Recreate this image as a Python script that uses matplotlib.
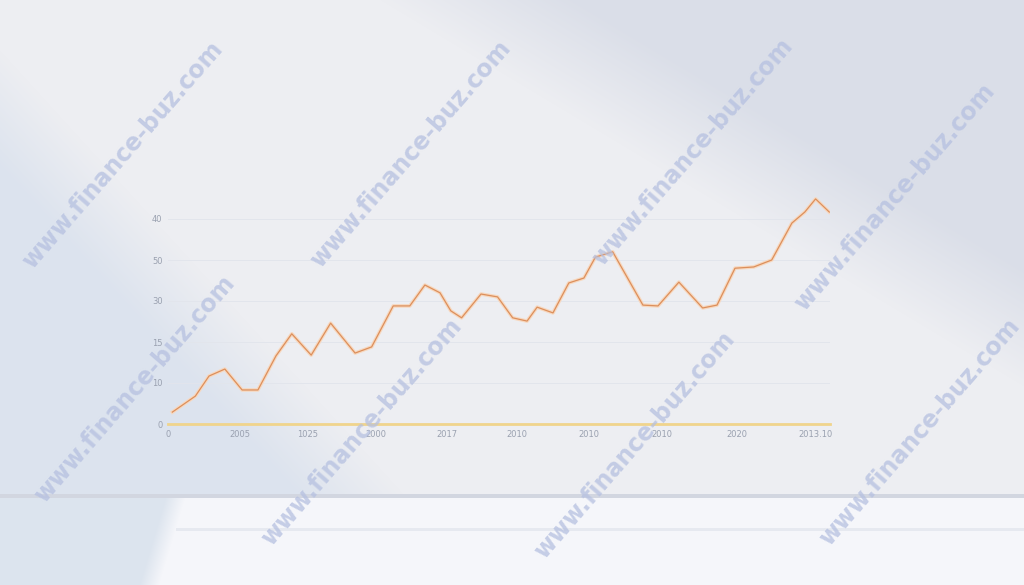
import numpy as np
import matplotlib
matplotlib.use('Agg')
import matplotlib.pyplot as plt

# line series (x in tick-spacing units, y in axis units)
x_vals = [0.06, 0.38, 0.57, 0.79, 1.03, 1.25, 1.50, 1.72, 1.99, 2.26, 2.60, 2.83,
          3.13, 3.36, 3.57, 3.78, 3.93, 4.08, 4.35, 4.58, 4.79, 4.99, 5.13, 5.35,
          5.57, 5.78, 5.94, 6.18, 6.60, 6.81, 7.10, 7.43, 7.63, 7.88, 8.14, 8.39,
          8.67, 8.85, 9.00, 9.19]
y_vals = [2.9, 6.8, 11.7, 13.4, 8.3, 8.3, 16.6, 22.0, 16.8, 24.6, 17.3, 18.8,
          28.8, 28.8, 33.9, 32.0, 27.6, 25.9, 31.7, 31.0, 25.9, 25.1, 28.5, 27.1,
          34.4, 35.6, 40.7, 42.0, 29.0, 28.8, 34.6, 28.3, 29.0, 38.0, 38.3, 40.0,
          49.0, 51.7, 54.9, 51.7]

x_ticks = [0, 1.0, 1.94, 2.89, 3.88, 4.85, 5.85, 6.86, 7.90, 9.0]
x_labels = ['0', '2005', '1025', '2000', '2017', '2010', '2010', '2010', '2020', '2013.10']
y_ticks = [0, 10, 20, 30, 40, 50]
y_labels = ['0', '10', '15', '30', '50', '40']

W, H = 1024, 585
fig = plt.figure(figsize=(W / 100, H / 100), dpi=100)

# soft background (wall + floor)
X, Y = np.meshgrid(np.arange(W), np.arange(H))

def smooth(d, w):
    return np.clip(0.5 + d / w, 0, 1)

img = np.zeros((H, W, 3))
img[:] = [237, 238, 242]
# shadow in the upper right
light = smooth((Y - 0.6 * (X - 480)), 120)
shadow_tr = np.array([218, 222, 232])
img = img * light[..., None] + shadow_tr * (1 - light[..., None])
# bluish lower-left shade
ll = smooth((Y - 110) - 1.1 * X, 120)
shade_ll = np.array([220, 227, 238])
img = img * (1 - ll[..., None]) + shade_ll * ll[..., None]
# floor
floor = Y >= 497
fl = smooth(X - 175 + 0.3 * (Y - 497), 20)
floor_col = np.array([245, 246, 250]) * fl[..., None] + np.array([220, 228, 238]) * (1 - fl[..., None])
img[floor] = floor_col[floor]
img[(Y >= 494) & (Y < 498)] = [210, 214, 224]
img[(Y >= 528) & (Y < 531) & (X > 175)] = [230, 233, 240]

bg = fig.add_axes([0, 0, 1, 1])
bg.imshow(img.astype(np.uint8), extent=(0, W, H, 0), aspect='auto')
bg.axis('off')

# chart axes
ax = fig.add_axes([168 / W, (H - 424) / H, 662 / W, 229.6 / H])
ax.patch.set_alpha(0)
ax.set_xlim(0, 9.2)
ax.set_ylim(0, 56)
for s in ax.spines.values():
    s.set_visible(False)
for yt in y_ticks[1:]:
    ax.axhline(yt, color='#e2e5ec', lw=0.7, zorder=1)
ax.axhline(0, color='#f0d48c', lw=2.0, zorder=2, clip_on=False)

ax.plot(x_vals, y_vals, color='#f7d8bf', lw=2.6, zorder=3)
ax.plot(x_vals, y_vals, color='#dc8f5c', lw=0.9, zorder=4)

ax.set_xticks(x_ticks)
ax.set_xticklabels(x_labels)
ax.set_yticks(y_ticks)
ax.set_yticklabels(y_labels)
ax.tick_params(length=0, labelsize=6, colors='#9aa1b0', pad=4)

# watermarks
marks = [(123, 155), (411, 154), (693, 152), (895, 197),
         (135, 389), (362, 432), (635, 445), (920, 432)]
for cx, cy in marks:
    fig.text(cx / W, 1 - cy / H, 'www.finance-buz.com', rotation=49,
             ha='center', va='center', fontsize=17, fontweight='bold',
             color='#b5c0e0', alpha=0.75, rotation_mode='anchor')

fig.savefig('out.png', dpi=100)
